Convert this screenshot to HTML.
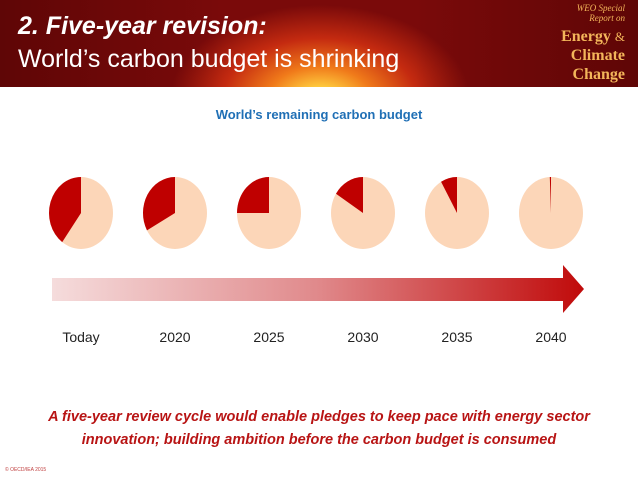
<!DOCTYPE html>
<html><head><meta charset="utf-8"><style>
body{margin:0;width:638px;height:479px;overflow:hidden;background:#fff;font-family:"Liberation Sans",sans-serif;position:relative}
#hdr{position:absolute;left:0;top:0;width:638px;height:87px;background:radial-gradient(ellipse 150px 95px at 320px 100px,#fff6c0 0%,#ffd040 12%,#f07a1a 35%,#c42a10 65%,#7a0a0a 100%),#6a0808}
#hdr:before{content:"";position:absolute;inset:0;background:linear-gradient(90deg,rgba(90,5,5,.85) 0%,rgba(90,5,5,0) 35%,rgba(90,5,5,0) 65%,rgba(90,5,5,.85) 100%)}
.t{position:absolute;color:#fff;white-space:nowrap}
</style></head><body>
<div id="hdr"></div>
<div class="t" style="left:18px;top:12px;font-size:25px;font-weight:bold;font-style:italic">2. Five-year revision:</div>
<div class="t" style="left:18px;top:45px;font-size:25px">World’s carbon budget is shrinking</div>
<div class="t" style="right:13px;top:3px;text-align:right;font-family:'Liberation Serif',serif;color:#f3b55a;line-height:1">
<div style="font-size:9px;font-style:italic;line-height:10px">WEO Special<br>Report on</div>
<div style="font-size:16px;font-weight:bold;margin-top:4px;line-height:19px">Energy <span style="font-weight:normal;font-size:13px">&amp;</span><br>Climate<br>Change</div></div>
<svg id="chart" width="638" height="479" style="position:absolute;left:0;top:0">
<defs><linearGradient id="ag" x1="52" x2="584" y1="0" y2="0" gradientUnits="userSpaceOnUse"><stop offset="0" stop-color="#f5dcdc"/><stop offset="0.5" stop-color="#e0898b"/><stop offset="1" stop-color="#c00a0a"/></linearGradient></defs>
<text x="319" y="119" text-anchor="middle" font-size="13" font-weight="bold" fill="#1f6fb5" font-family="Liberation Sans">World’s remaining carbon budget</text>
<polygon points="52,278 563,278 563,265 584,289 563,313 563,301 52,301" fill="url(#ag)"/>
<g id="pies"></g>
</svg>
<div class="t" style="left:0;width:638px;top:406px;text-align:center;color:#b81414;font-size:14.5px;font-weight:bold;font-style:italic;line-height:23px">A five-year review cycle would enable pledges to keep pace with energy sector<br>innovation; building ambition before the carbon budget is consumed</div>
<div class="t" style="left:5px;top:467px;font-size:5px;color:#c04040">© OECD/IEA 2015</div>
<script>
const categories=["Today","2020","2025","2030","2035","2040"];
const remaining=[0.40,0.33,0.25,0.16,0.083,0.006];
const ns="http://www.w3.org/2000/svg";
const g=document.getElementById('pies');
const x0=81,dx=94,cy=213,rx=32,ry=36;
categories.forEach((c,i)=>{
  const cx=x0+i*dx;
  const e=document.createElementNS(ns,'ellipse');
  e.setAttribute('cx',cx);e.setAttribute('cy',cy);e.setAttribute('rx',rx);e.setAttribute('ry',ry);e.setAttribute('fill','#fcd6b8');
  
  
  g.appendChild(e);
  const a=remaining[i]*2*Math.PI;
  const ex=cx-rx*Math.sin(a),ey=cy-ry*Math.cos(a);
  const p=document.createElementNS(ns,'path');
  p.setAttribute('d',`M${cx},${cy} L${cx},${cy-ry} A${rx},${ry} 0 ${remaining[i]>0.5?1:0} 0 ${ex},${ey} Z`);
  p.setAttribute('fill','#bf0000');
  
  
  g.appendChild(p);
  const t=document.createElementNS(ns,'text');
  t.setAttribute('x',cx);t.setAttribute('y',342);t.setAttribute('text-anchor','middle');
  t.setAttribute('font-size','14');t.setAttribute('fill','#222');t.setAttribute('font-family','Liberation Sans');
  t.textContent=c;
  
  
  g.appendChild(t);
});
</script>
</body></html>
